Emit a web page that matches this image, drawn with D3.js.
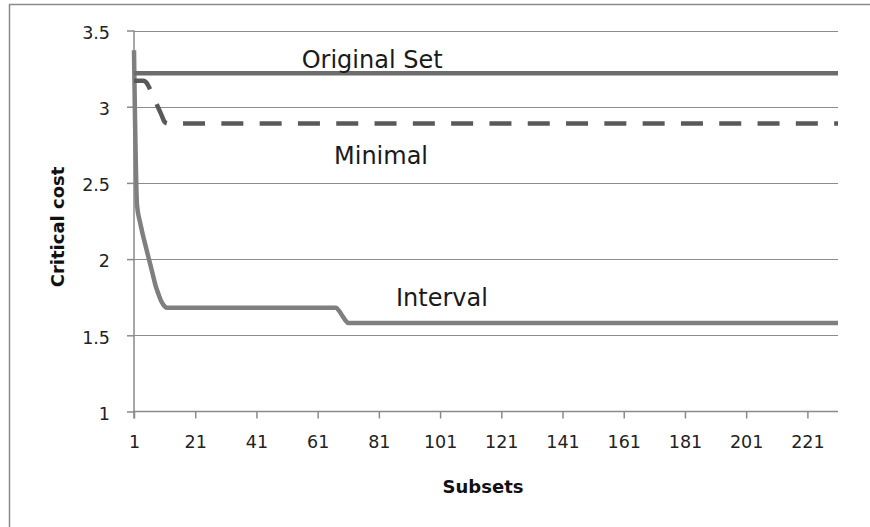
<!DOCTYPE html>
<html><head><meta charset="utf-8">
<script src="https://cdn.jsdelivr.net/npm/d3@7"></script>
<style>body{margin:0;background:#fff}svg{display:block}</style>
</head><body>
<svg id="c" width="870" height="527"></svg>
<script>
// ---- data ----
const nSubsets = 231;
const xTickLabels = [1, 21, 41, 61, 81, 101, 121, 141, 161, 181, 201, 221];
const yTickLabels = [1, 1.5, 2, 2.5, 3, 3.5];

const originalSetX = [1, 231];
const originalSetY = [3.22, 3.22];

const minimalX = [1, 2, 3, 4, 5, 6, 7, 8, 9, 10, 11, 12, 231];
const minimalY = [3.17, 3.17, 3.17, 3.17, 3.16, 3.125, 3.08, 3.035, 2.99, 2.945, 2.90, 2.89, 2.89];

const intervalX = [1, 2, 3, 4, 5, 6, 7, 8, 9, 10, 11, 12, 67, 68, 69, 70, 71, 231];
const intervalY = [3.37, 2.35, 2.24, 2.15, 2.07, 1.99, 1.91, 1.83, 1.77, 1.72, 1.69, 1.68, 1.68, 1.66, 1.63, 1.60, 1.58, 1.58];

const seriesNames = ["Original Set", "Minimal", "Interval"];

// ---- drawing ----
const svg = d3.select("#c");
const m = {left: 134, right: 838, top: 30.5, bottom: 411.5};
const x = d3.scaleLinear().domain([1, nSubsets]).range([m.left, m.right]);
const y = d3.scaleLinear().domain([1, 3.5]).range([m.bottom, m.top]);
const font = "'DejaVu Sans', Verdana, sans-serif";

// outer border
svg.append("rect").attr("x", 9.5).attr("y", 4.5).attr("width", 900).attr("height", 600)
  .attr("fill", "none").attr("stroke", "#8a8a8a").attr("stroke-width", 1.5);

// gridlines
svg.append("g").selectAll("line").data(yTickLabels.slice(1)).join("line")
  .attr("x1", m.left).attr("x2", m.right)
  .attr("y1", d => Math.round(y(d)) + 0.5).attr("y2", d => Math.round(y(d)) + 0.5)
  .attr("stroke", "#8c8c8c").attr("stroke-width", 1.2);

// y axis
const yAxis = d3.axisLeft(y).tickValues(yTickLabels).tickSize(7).tickPadding(17)
  .tickFormat(d => String(d));
const gy = svg.append("g").attr("transform", `translate(${m.left},0)`).call(yAxis);
gy.select(".domain").attr("stroke", "#8a8a8a").attr("stroke-width", 1.5)
  .attr("d", `M0,${m.top}V${m.bottom + 7}`);
gy.selectAll(".tick line").attr("stroke", "#8a8a8a").attr("stroke-width", 1.5);
gy.selectAll(".tick text").attr("font-family", font).attr("font-size", 17.5).attr("fill", "#222")
  .attr("dy", "0.45em");

// x axis
const xAxis = d3.axisBottom(x).tickValues(xTickLabels).tickSize(7).tickPadding(17)
  .tickFormat(d => String(d));
const gx = svg.append("g").attr("transform", `translate(0,${m.bottom})`).call(xAxis);
gx.select(".domain").attr("stroke", "#8a8a8a").attr("stroke-width", 1.5)
  .attr("d", `M${m.left},0H${m.right}`);
gx.selectAll(".tick line").attr("stroke", "#8a8a8a").attr("stroke-width", 1.5);
gx.selectAll(".tick text").attr("font-family", font).attr("font-size", 17.5).attr("fill", "#222");

// lines
const line = d3.line().x(d => x(d[0])).y(d => y(d[1])).curve(d3.curveMonotoneX);
const zip = (a, b) => a.map((v, i) => [v, b[i]]);

svg.append("path").datum(zip(intervalX, intervalY)).attr("d", line)
  .attr("fill", "none").attr("stroke", "#7f7f7f").attr("stroke-width", 4.5)
  .attr("stroke-linejoin", "round");
svg.append("path").datum(zip(originalSetX, originalSetY)).attr("d", line)
  .attr("fill", "none").attr("stroke", "#6c6c6c").attr("stroke-width", 4.5);
const minPath = svg.append("path").datum(zip(minimalX, minimalY)).attr("d", line)
  .attr("fill", "none").attr("stroke", "#595959").attr("stroke-width", 4.5);
// align the dash phase so a dash begins at the reference position on the flat part
(function () {
  const node = minPath.node();
  const total = node.getTotalLength();
  const target = x(17);
  let lo = 0, hi = total;
  for (let i = 0; i < 40; i++) {
    const mid = (lo + hi) / 2;
    if (node.getPointAtLength(mid).x < target) lo = mid; else hi = mid;
  }
  const period = 38.3;
  minPath.attr("stroke-dasharray", "22,16.3")
    .attr("stroke-dashoffset", period - (lo % period));
})();

// series labels
const labels = [
  {name: seriesNames[0], sx: 78.8, sy: 3.306},
  {name: seriesNames[1], sx: 81.7, sy: 2.677},
  {name: seriesNames[2], sx: 101.6, sy: 1.745}
];
svg.append("g").selectAll("text").data(labels).join("text")
  .attr("x", d => x(d.sx)).attr("y", d => y(d.sy))
  .attr("text-anchor", "middle").attr("dominant-baseline", "central")
  .attr("font-family", font).attr("font-size", 24).attr("fill", "#1a1a1a")
  .text(d => d.name);

// axis titles
svg.append("text").attr("x", 483).attr("y", 486)
  .attr("text-anchor", "middle").attr("dominant-baseline", "central")
  .attr("font-family", font).attr("font-weight", "bold").attr("font-size", 18).attr("fill", "#111")
  .text("Subsets");
svg.append("text").attr("transform", `translate(57,227) rotate(-90)`)
  .attr("text-anchor", "middle").attr("dominant-baseline", "central")
  .attr("font-family", font).attr("font-weight", "bold").attr("font-size", 18).attr("fill", "#111")
  .text("Critical cost");
</script>
</body></html>
